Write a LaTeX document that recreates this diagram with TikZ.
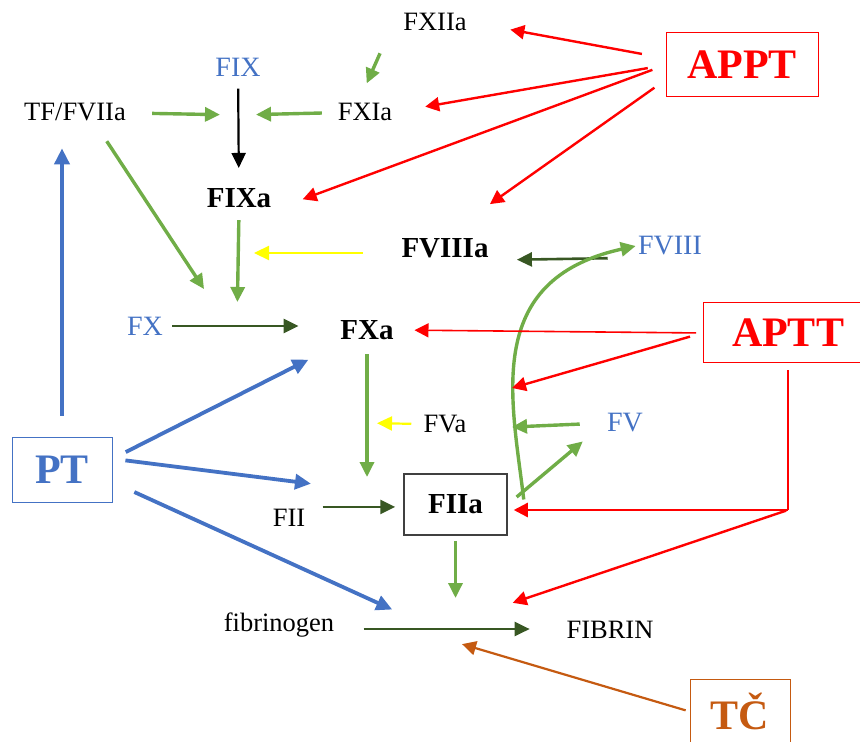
\documentclass[tikz,border=0pt]{standalone}
\usepackage{fontspec}
\setmainfont{Liberation Serif}
\usetikzlibrary{arrows.meta}
\definecolor{lgreen}{HTML}{70AD47}
\definecolor{dgreen}{HTML}{385723}
\definecolor{pblue}{HTML}{4472C4}
\definecolor{tcorange}{HTML}{C55A11}
\definecolor{ylw}{HTML}{FFFF00}
\tikzset{
  lbl/.style={inner sep=1pt, font=\fontsize{13.25}{15}\selectfont},
  inact/.style={inner sep=1pt, text=pblue, font=\fontsize{14}{16}\selectfont},
  act/.style={inner sep=1pt, font=\fontsize{14.5}{17}\selectfont\bfseries},
  testbox/.style={draw, line width=0.5pt, inner sep=0pt, font=\fontsize{21}{24}\selectfont\bfseries},
  tip/.style={-{Triangle[length=7.5pt,width=7pt]}},
  grn/.style={tip, draw=lgreen, line width=1.7pt},
  dgrn/.style={tip, draw=dgreen, line width=1.3pt},
  ylwarr/.style={tip, draw=ylw, line width=1.1pt},
  blk/.style={tip, draw=black, line width=1.1pt},
  blu/.style={-{Triangle[length=8pt,width=7.5pt]}, draw=pblue, line width=1.9pt},
  rd/.style={-{Triangle[length=7pt,width=7pt]}, draw=red, line width=1.2pt},
  rdthin/.style={-{Triangle[length=7pt,width=7pt]}, draw=red, line width=0.8pt},
  org/.style={-{Triangle[length=7pt,width=7pt]}, draw=tcorange, line width=1.1pt}
}
\begin{document}
\begin{tikzpicture}[x=0.5pt, y=-0.5pt]
  \useasboundingbox (0,0) rectangle (860,742);

  % factors
  \node[lbl] (fxiia) at (435,22) {FXIIa};
  \node[inact] (fix) at (238,67) {FIX};
  \node[lbl] (tf) at (75,112) {TF/FVIIa};
  \node[lbl] (fxia) at (365,112) {FXIa};
  \node[act] (fixa) at (239,198) {FIXa};
  \node[act] (fviiia) at (445,248) {FVIIIa};
  \node[inact] (fviii) at (670,246) {FVIII};
  \node[inact] (fx) at (145,326) {FX};
  \node[act] (fxa) at (367,330) {FXa};
  \node[lbl] (fva) at (445,424) {FVa};
  \node[inact] (fv) at (625,423) {FV};
  \node[lbl] (fii) at (289,518) {FII};
  \node[act, draw=black!75, line width=0.75pt, minimum width=51.5pt, minimum height=30.5pt] (fiia) at (455.5,504.5) {FIIa};
  \node[lbl] (fibrinogen) at (279,625) {fibrinogen};
  \node[lbl] (fibrin) at (610,630) {FIBRIN};

  % tests
  \node[testbox, draw=red, text=red, minimum width=76pt, minimum height=32pt] (appt) at (742,65) {APPT};
  \node[testbox, draw=red, text=red, minimum width=85pt, minimum height=30pt] (aptt) at (788,333) {APTT};
  \node[testbox, draw=pblue, text=pblue, minimum width=50pt, minimum height=32.5pt] (pt) at (62,469.5) {PT};
  \node[testbox, draw=tcorange, text=tcorange, minimum width=50pt, minimum height=32.5pt] (tc) at (740,711.5) {TČ};

  % reaction points
  \coordinate (jfix) at (238,115);
  \coordinate (jfx) at (237,327);
  \coordinate (jfixa) at (237,253);
  \coordinate (jfxa) at (367,423);
  \coordinate (jfii) at (367,510);
  \coordinate (jfib) at (435,629);
  \coordinate (jviii) at (512,388);
  \coordinate (jv) at (512,427);
  \coordinate (knee) at (788,510);

  % cascade
  \draw[grn, shorten <=11pt, shorten >=9.5pt] ([xshift=-6pt]fxiia.south west) -- ([xshift=-3pt]fxia.north);
  \draw[grn, shorten <=12pt, shorten >=9pt] (tf) -- (jfix);
  \draw[grn, shorten <=6.75pt, shorten >=9pt] (fxia) -- (jfix);
  \draw[blk, shorten <=5pt, shorten >=9pt] (fix) -- (fixa);
  \draw[grn, shorten <=10.7pt, shorten >=22.7pt] ([xshift=10pt]tf.south) -- ([xshift=-4pt]jfx);
  \draw[grn, shorten <=5pt, shorten >=12.5pt] (fixa.south) -- (jfx);
  \draw[ylwarr, shorten <=18pt, shorten >=8.5pt] (fviiia.west |- jfixa) -- (jfixa);
  \draw[dgrn, shorten <=14pt, shorten >=13pt] (fviii.south west) -- (fviiia.south east);
  \draw[grn] ([shift={(16,-5)}]fiia.east) .. controls (512,400) and (482,280) .. (fviii.west);
  \draw[dgrn, shorten <=3.5pt, shorten >=19.75pt] (fx.east) -- (fx.east -| fxa.west);
  \draw[grn, shorten <=6pt, shorten >=16.5pt] (fxa.south) -- (jfii);
  \draw[ylwarr, shorten <=5pt, shorten >=5pt] (fva.west) -- (jfxa);
  \draw[grn, shorten <=12.5pt] (fv.west) -- (jv);
  \draw[grn, shorten <=5.8pt, shorten >=14.3pt] (fiia.east) -- (fv.west);
  \draw[dgrn, shorten <=7.5pt, shorten >=4pt] (fii.north east) -- (fii.north east -| fiia.west);
  \draw[grn, shorten <=2.5pt, shorten >=15.5pt] (fiia.south) -- (fiia.south |- jfib);
  \draw[dgrn, shorten <=13.5pt, shorten >=17.25pt] (fibrinogen.east |- jfib) -- (fibrin.west |- jfib);

  % PT
  \draw[blu, shorten <=10.5pt, shorten >=12.5pt] (pt.north) -- (pt.north |- tf.south);
  \draw[blu, shorten <=7.4pt, shorten >=19.5pt] (pt.12) -- (fxa);
  \draw[blu, shorten <=6.5pt, shorten >=46.5pt] (pt.12) -- (fiia.170);
  \draw[blu, shorten <=12pt, shorten >=23.5pt] (pt.-14) -- (jfib);

  % APPT, APTT
  \draw[rd, shorten <=12pt, shorten >=21pt] (appt.175) -- (fxiia.east);
  \draw[rd, shorten <=9pt, shorten >=15.5pt] (appt.west) -- (fxia.east);
  \draw[rd, shorten <=7pt, shorten >=15.5pt] (appt.west) -- (fixa.south east);
  \draw[rd, shorten <=6.8pt, shorten >=27.5pt] (appt.191) -- (fviiia.north);
  \draw[rdthin, shorten <=3.25pt, shorten >=9.25pt] (aptt.west) -- (fxa.east);
  \draw[rd, shorten <=6.5pt] (aptt.west) -- (jviii);
  \draw[red, line width=0.8pt, shorten <=3.5pt] (aptt.south) -- (knee);
  \draw[rd, shorten >=3pt] (knee) -- (knee -| fiia.east);
  \draw[rd, shorten <=1pt, shorten >=41pt] (knee) -- (jfib);

  % TC
  \draw[org, shorten <=2pt, shorten >=26.6pt] (tc.west) -- ([xshift=-12pt]jfib);
\end{tikzpicture}
\end{document}
